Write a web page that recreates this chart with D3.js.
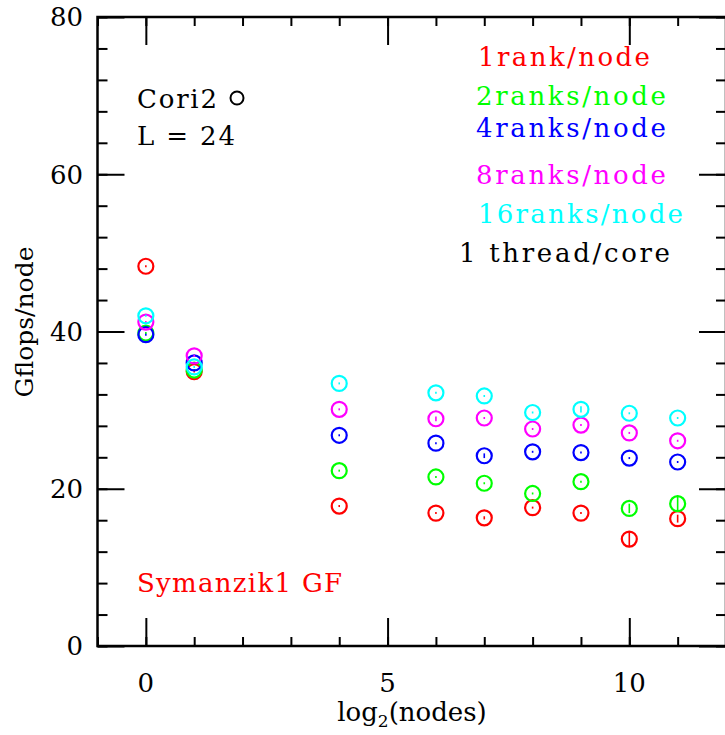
<!DOCTYPE html>
<html>
<head>
<meta charset="utf-8">
<script src="https://cdn.jsdelivr.net/npm/d3@7"></script>
<style>
  html, body { margin: 0; padding: 0; background: #fff; }
  svg { display: block; }
</style>
</head>
<body>
<svg id="chart" width="725" height="735"></svg>
<script>
// ---------- data ----------
const log2Nodes = [0, 1, 4, 6, 7, 8, 9, 10, 11];
const rank1  = [48.3, 34.9, 17.8, 16.9, 16.3, 17.6, 16.9, 13.6, 16.2];
const ranks2 = [39.8, 35.1, 22.3, 21.5, 20.7, 19.4, 20.9, 17.5, 18.1];
const ranks4 = [39.6, 36.0, 26.8, 25.8, 24.2, 24.7, 24.6, 23.9, 23.4];
const ranks8 = [41.2, 36.9, 30.1, 28.9, 29.0, 27.6, 28.1, 27.1, 26.1];
const ranks16= [42.0, 35.5, 33.4, 32.2, 31.8, 29.7, 30.1, 29.6, 29.0];
const err1   = [0.1, 0.1, 0.1, 0.1, 0.2, 0.1, 0.1, 0.9, 0.5];
const err2   = [0.1, 0.1, 0.1, 0.1, 0.1, 0.1, 0.1, 0.6, 1.0];
const err4   = [0.1, 0.1, 0.1, 0.1, 0.3, 0.1, 0.1, 0.1, 0.1];
const err8   = [0.1, 0.1, 0.1, 0.3, 0.1, 0.1, 0.1, 0.1, 0.1];
const err16  = [0.1, 0.1, 0.1, 0.1, 0.1, 0.1, 0.4, 0.1, 0.1];
const seriesNames  = ["1rank/node", "2ranks/node", "4ranks/node", "8ranks/node", "16ranks/node"];
const seriesColors = ["#ff0000", "#00ff00", "#0000ff", "#ff00ff", "#00ffff"];
const xMajorTicks = [0, 5, 10];
const xMinorTicks = d3.range(-1, 13, 1);
const yMajorTicks = [0, 20, 40, 60, 80];
const yMinorTicks = d3.range(0, 81, 4);

const seriesVals = [rank1, ranks2, ranks4, ranks8, ranks16];
const seriesErrs = [err1, err2, err4, err8, err16];

// ---------- layout ----------
const L = 97.5, R = 726, T = 17, B = 646;
const svg = d3.select("#chart");
const x = d3.scaleLinear().domain([-1, 12]).range([L, R]);
const y = d3.scaleLinear().domain([0, 80]).range([B, T]);

const tickFont = "'DejaVu Serif', serif";
const annFont = "'DejaVu Serif', serif";

function styleAxis(g) {
  g.select(".domain").remove();
  g.selectAll("line").attr("stroke", "#000").attr("stroke-width", 2);
  g.selectAll("text").remove();
}
// bottom
svg.append("g").attr("transform", `translate(0,${B})`)
  .call(d3.axisBottom(x).tickValues(xMinorTicks).tickSize(-9).tickFormat("")).call(styleAxis);
svg.append("g").attr("transform", `translate(0,${B})`)
  .call(d3.axisBottom(x).tickValues(xMajorTicks).tickSize(-28).tickFormat("")).call(styleAxis);
// top
svg.append("g").attr("transform", `translate(0,${T})`)
  .call(d3.axisTop(x).tickValues(xMinorTicks).tickSize(-9).tickFormat("")).call(styleAxis);
svg.append("g").attr("transform", `translate(0,${T})`)
  .call(d3.axisTop(x).tickValues(xMajorTicks).tickSize(-28).tickFormat("")).call(styleAxis);
// left
svg.append("g").attr("transform", `translate(${L},0)`)
  .call(d3.axisLeft(y).tickValues(yMinorTicks).tickSize(-10).tickFormat("")).call(styleAxis);
svg.append("g").attr("transform", `translate(${L},0)`)
  .call(d3.axisLeft(y).tickValues(yMajorTicks).tickSize(-27).tickFormat("")).call(styleAxis);
// right
svg.append("g").attr("transform", `translate(${R},0)`)
  .call(d3.axisRight(y).tickValues(yMinorTicks).tickSize(-10).tickFormat("")).call(styleAxis);
svg.append("g").attr("transform", `translate(${R},0)`)
  .call(d3.axisRight(y).tickValues(yMajorTicks).tickSize(-27).tickFormat("")).call(styleAxis);

// frame
svg.append("rect").attr("x", L).attr("y", T).attr("width", R - L).attr("height", B - T)
  .attr("fill", "none").attr("stroke", "#000").attr("stroke-width", 2.5);

// tick labels
svg.append("g").selectAll("text").data(xMajorTicks).join("text")
  .attr("x", d => x(d)).attr("y", 692)
  .attr("text-anchor", "middle")
  .attr("font-family", tickFont).attr("font-size", 26)
  .text(d => d);
svg.append("g").selectAll("text").data(yMajorTicks).join("text")
  .attr("x", 83).attr("y", d => y(d)).attr("dy", "0.36em")
  .attr("text-anchor", "end")
  .attr("font-family", tickFont).attr("font-size", 26)
  .text(d => d);

// axis titles
const xt = svg.append("text").attr("x", 412).attr("y", 721)
  .attr("text-anchor", "middle").attr("font-family", tickFont).attr("font-size", 26);
xt.append("tspan").text("log");
xt.append("tspan").attr("font-size", 17).attr("dy", 6).text("2");
xt.append("tspan").attr("dy", -6).text("(nodes)");

svg.append("text").attr("transform", "translate(33,322) rotate(-90)")
  .attr("text-anchor", "middle").attr("font-family", tickFont).attr("font-size", 25)
  .text("Gflops/node");

// data points
const pts = svg.append("g");
seriesVals.forEach((vals, si) => {
  const col = seriesColors[si];
  const errs = seriesErrs[si];
  const g = pts.append("g");
  const data = log2Nodes.map((xv, i) => ({ x: xv, v: vals[i], e: errs[i] }));
  g.selectAll("circle").data(data).join("circle")
    .attr("cx", d => x(d.x)).attr("cy", d => y(d.v)).attr("r", 7.5)
    .attr("fill", "none").attr("stroke", col).attr("stroke-width", 2.2);
  g.selectAll("line").data(data).join("line")
    .attr("x1", d => x(d.x)).attr("x2", d => x(d.x))
    .attr("y1", d => Math.min(y(d.v + d.e), y(d.v) - 1))
    .attr("y2", d => Math.max(y(d.v - d.e), y(d.v) + 1))
    .attr("stroke", col).attr("stroke-width", 1.6);
});

// annotations
function ann(txt, xx, yy, col, w) {
  svg.append("text").attr("x", xx).attr("y", yy)
    .attr("font-family", annFont).attr("font-size", 26)
    .attr("fill", col)
    .attr("textLength", w).attr("lengthAdjust", "spacing")
    .text(txt);
}
const legendY = [66, 105, 137, 184, 223];
const legendX = [478, 476, 476, 476, 478];
const legendW = [172, 190, 190, 190, 205];
seriesNames.forEach((n, i) => ann(n, legendX[i], legendY[i], seriesColors[i], legendW[i]));
ann("1 thread/core", 459, 262, "#000", 211);
ann("Cori2", 137, 108, "#000", 80);
svg.append("circle").attr("cx", 237).attr("cy", 98).attr("r", 6.5)
  .attr("fill", "none").attr("stroke", "#000").attr("stroke-width", 2);
ann("L = 24", 137, 145, "#000", 98);
ann("Symanzik1 GF", 137, 592, "#ff0000", 205);
</script>
</body>
</html>
